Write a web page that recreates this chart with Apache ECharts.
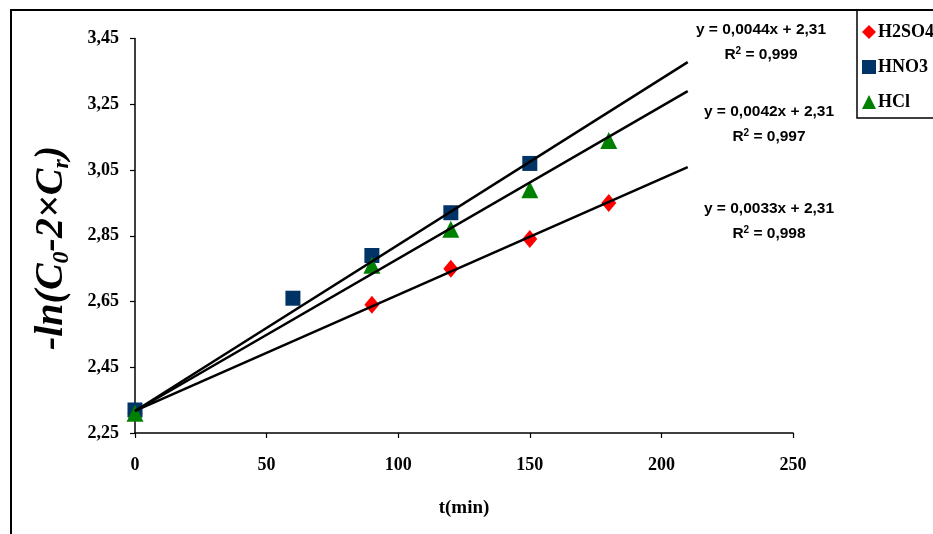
<!DOCTYPE html>
<html>
<head>
<meta charset="utf-8" />
<title>-ln(C0-2×Cr) - t</title>
<script src="https://cdn.jsdelivr.net/npm/echarts@6/dist/echarts.min.js"></script>
<style>
	html, body { margin: 0; padding: 0; background: #fff; }
	#main { width: 933px; height: 534px; }
</style>
</head>
<body>
<div id="main"></div>
<script type="text/javascript">
	// measured points
	var h2so4X = [0, 90, 120, 150, 180];
	var h2so4Y = [2.31, 2.64, 2.75, 2.84, 2.95];
	var hno3X = [0, 60, 90, 120, 150];
	var hno3Y = [2.32, 2.66, 2.79, 2.92, 3.07];
	var hclX = [0, 90, 120, 150, 180];
	var hclY = [2.31, 2.76, 2.87, 2.99, 3.14];

	// trend lines (as drawn)
	var trendX = [0, 210];
	var trendHNO3 = [2.317, 3.378];
	var trendHCl = [2.317, 3.290];
	var trendH2SO4 = [2.317, 3.059];

	var eqText = ['y = 0,0044x + 2,31', 'y = 0,0042x + 2,31', 'y = 0,0033x + 2,31'];
	var r2Text = ['2', '2', '2'];
	var r2Value = [' = 0,999', ' = 0,997', ' = 0,998'];
	var legendNames = ['H2SO4', 'HNO3', 'HCl'];

	function pairs(xs, ys) {
		var out = [];
		for (var i = 0; i < xs.length; i++) out.push([xs[i], ys[i]]);
		return out;
	}

	function trend(ys) {
		return {
			type: 'line',
			data: pairs(trendX, ys),
			symbol: 'none',
			silent: true,
			z: 5,
			lineStyle: { color: '#000', width: 2.5 }
		};
	}

	var serif = 'Liberation Serif, Times New Roman, serif';
	var sans = 'Liberation Sans, Arial, sans-serif';

	var myChart = echarts.init(document.getElementById('main'));

	var eqPos = [[761, 30], [769, 112], [769, 209]];
	var graphics = [{
		type: 'rect',
		shape: { x: 11, y: 10, width: 1000, height: 1000 },
		style: { fill: 'none', stroke: '#000', lineWidth: 2 },
		z: -1
	}, {
		type: 'text',
		x: 52, y: 248,
		rotation: Math.PI / 2,
		style: {
			text: '{m|-ln(C}{s|0}{m|-2×C}{s|r}{m|)}',
			align: 'center',
			verticalAlign: 'middle',
			rich: {
				m: { font: 'italic bold 40px ' + serif, fill: '#000', lineHeight: 44 },
				s: { font: 'italic bold 24px ' + serif, fill: '#000', lineHeight: 44, verticalAlign: 'bottom', padding: [16, 0, 0, 0] }
			}
		}
	}];
	for (var i = 0; i < eqText.length; i++) {
		graphics.push({
			type: 'text', x: eqPos[i][0], y: eqPos[i][1],
			style: { text: eqText[i], font: 'bold 15.5px ' + sans, fill: '#000', align: 'center', verticalAlign: 'middle' }
		});
		graphics.push({
			type: 'text', x: eqPos[i][0], y: eqPos[i][1] + 25,
			style: {
				text: '{a|R}{p|' + r2Text[i] + '}{a|' + r2Value[i] + '}',
				align: 'center', verticalAlign: 'middle',
				rich: {
					a: { font: 'bold 15.5px ' + sans, fill: '#000', lineHeight: 18 },
					p: { font: 'bold 10px ' + sans, fill: '#000', lineHeight: 18, verticalAlign: 'top', padding: [0, 0, 8, 0] }
				}
			}
		});
	}

	var option = {
		animation: false,
		backgroundColor: '#fff',
		grid: { left: 135, right: 140, top: 38.5, bottom: 101 },
		legend: {
			orient: 'vertical',
			left: 857, top: 10,
			padding: [13, 30, 7, 5],
			itemGap: 17,
			itemWidth: 14, itemHeight: 14,
			borderColor: '#000', borderWidth: 1.5,
			textStyle: { fontFamily: serif, fontWeight: 'bold', fontSize: 18, color: '#000', padding: [0, 0, 0, -3] },
			data: [
				{ name: legendNames[0], icon: 'diamond' },
				{ name: legendNames[1], icon: 'rect' },
				{ name: legendNames[2], icon: 'triangle' }
			]
		},
		xAxis: {
			type: 'value', min: 0, max: 250, interval: 50,
			name: 't(min)', nameLocation: 'middle', nameGap: 66,
			nameTextStyle: { fontFamily: serif, fontWeight: 'bold', fontSize: 19, color: '#000' },
			axisLine: { lineStyle: { color: '#000', width: 1.5 } },
			axisTick: { show: true, length: 5, lineStyle: { color: '#000', width: 1.2 } },
			axisLabel: { margin: 23, fontFamily: serif, fontWeight: 'bold', fontSize: 18, color: '#000' },
			splitLine: { show: false }
		},
		yAxis: {
			type: 'value', min: 2.25, max: 3.45, interval: 0.2,
			axisLine: { show: true, lineStyle: { color: '#000', width: 1.5 } },
			axisTick: { show: true, length: 5, lineStyle: { color: '#000', width: 1.2 } },
			axisLabel: {
				margin: 16, fontFamily: serif, fontWeight: 'bold', fontSize: 18, color: '#000',
				formatter: function (v) { return v.toFixed(2).replace('.', ','); }
			},
			splitLine: { show: false }
		},
		graphic: graphics,
		series: [{
			name: legendNames[0], type: 'scatter', symbol: 'diamond', symbolSize: [15, 18],
			itemStyle: { color: '#ff0000', opacity: 1 },
			data: pairs(h2so4X, h2so4Y), z: 3
		}, {
			name: legendNames[1], type: 'scatter', symbol: 'rect', symbolSize: 15,
			itemStyle: { color: '#003366', opacity: 1 },
			data: pairs(hno3X, hno3Y), z: 3
		}, {
			name: legendNames[2], type: 'scatter', symbol: 'triangle', symbolSize: 17,
			itemStyle: { color: '#008000', opacity: 1 },
			data: pairs(hclX, hclY), z: 4
		},
		trend(trendHNO3),
		trend(trendHCl),
		trend(trendH2SO4)
		]
	};

	myChart.setOption(option);
	window.onresize = myChart.resize;
</script>
</body>
</html>
